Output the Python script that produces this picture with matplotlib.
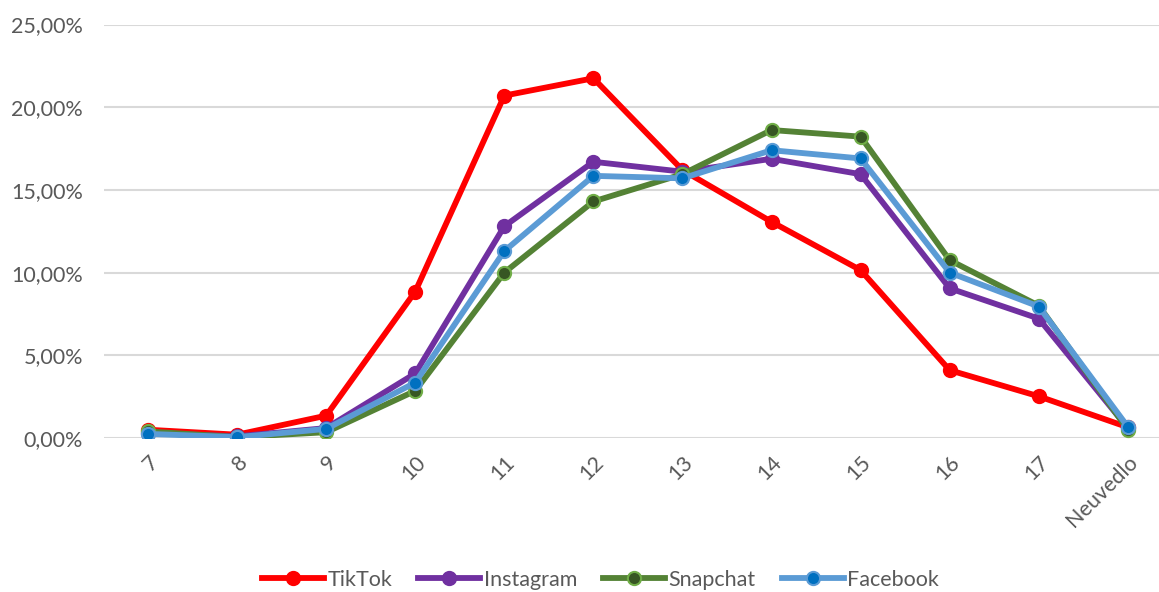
import matplotlib
matplotlib.use("Agg")
import matplotlib.pyplot as plt
from matplotlib.ticker import FuncFormatter

categories = ["7", "8", "9", "10", "11", "12", "13", "14", "15", "16", "17", "Neuvedlo"]
tiktok = [0.50, 0.20, 1.35, 8.85, 20.70, 21.75, 16.20, 13.07, 10.15, 4.10, 2.52, 0.65]
instagram = [0.30, 0.10, 0.60, 3.90, 12.80, 16.70, 16.10, 16.88, 15.95, 9.05, 7.22, 0.60]
snapchat = [0.40, 0.05, 0.35, 2.85, 10.00, 14.30, 15.95, 18.62, 18.22, 10.75, 8.00, 0.50]
facebook = [0.25, 0.05, 0.55, 3.35, 11.30, 15.85, 15.70, 17.40, 16.90, 10.00, 7.95, 0.68]
yticks = [0, 5, 10, 15, 20, 25]

W, H = 1159, 592
fig = plt.figure(figsize=(W / 100, H / 100), dpi=100)
ax = fig.add_axes([104 / W, 1 - 438 / H, (1159 - 104) / W, (438 - 24.5) / H])

font = "Lato"
tc = "#595959"
fs = 15.5
x = list(range(len(categories)))

series = [
    ("TikTok", tiktok, "#FF0000", "#FF0000", "#FF0000"),
    ("Instagram", instagram, "#7030A0", "#7030A0", "#7030A0"),
    ("Snapchat", snapchat, "#548235", "#375623", "#70AD47"),
    ("Facebook", facebook, "#5B9BD5", "#0070C0", "#5B9BD5"),
]
for name, vals, lc, mfc, mec in series:
    ax.plot(x, vals, color=lc, lw=4.2, marker="o", ms=9.5, mfc=mfc, mec=mec,
            mew=1.5, label=name, solid_joinstyle="round", zorder=3)

ax.set_ylim(0, 25)
ax.set_xlim(-0.494, 11.35)
ax.set_yticks(yticks)
ax.yaxis.set_major_formatter(FuncFormatter(lambda v, p: f"{v:.2f}".replace(".", ",") + "%"))
ax.grid(axis="y", color="#D9D9D9", lw=1.5, zorder=0)
ax.set_axisbelow(True)
for s in ax.spines.values():
    s.set_visible(False)
ax.tick_params(axis="both", length=0, colors=tc, labelsize=fs)
ax.tick_params(axis="y", pad=15)
ax.set_xticks(x)
ax.set_xticklabels(categories, rotation=45, ha="right", va="top",
                   rotation_mode="anchor", fontfamily=font)
for lab in ax.get_yticklabels():
    lab.set_fontfamily(font)
ax.tick_params(axis="x", pad=10)

leg = fig.legend(loc="center", bbox_to_anchor=(0.518, 1 - 580 / H), ncol=4,
                 frameon=False, handlelength=2.9, handletextpad=0.15,
                 columnspacing=1.2, prop={"family": font, "size": fs})
for t in leg.get_texts():
    t.set_color(tc)

fig.savefig("out.png", dpi=100)
